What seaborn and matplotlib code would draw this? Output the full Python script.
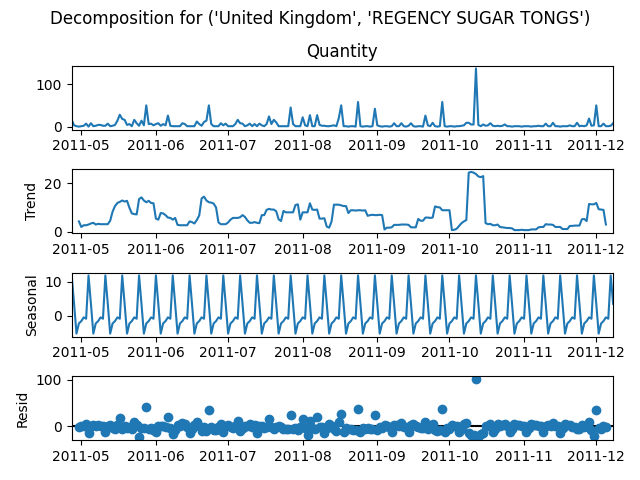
import numpy as np
import pandas as pd
import matplotlib
matplotlib.use("Agg")
import matplotlib.pyplot as plt
import seaborn as sns

# ---------------- data ----------------
suptitle_text = "Decomposition for ('United Kingdom', 'REGENCY SUGAR TONGS')"
series_name = "Quantity"
start_date = "2011-04-27"
period = 7

# daily observed quantity, 2011-04-27 .. 2011-12-08
quantity = [
    16, 3, 1, 0, 1, 2, 7, 0, 8, 1, 2, 4, 4, 2,
    2, 7, 1, 2, 4, 14, 28, 18, 16, 4, 6, 1, 16, 8,
    2, 14, 3, 50, 6, 7, 3, 6, 8, 2, 6, 3, 26, 2,
    1, 1, 1, 1, 8, 6, 1, 1, 1, 1, 12, 6, 2, 11,
    14, 50, 6, 1, 1, 1, 8, 3, 7, 1, 1, 1, 6, 16,
    8, 7, 1, 3, 7, 1, 6, 1, 7, 3, 1, 6, 24, 6,
    16, 10, 1, 1, 1, 1, 1, 45, 6, 1, 1, 1, 22, 3,
    1, 27, 1, 1, 27, 4, 2, 2, 1, 1, 2, 3, 1, 20,
    50, 1, 1, 0, 1, 1, 0, 58, 1, 0, 1, 1, 0, 1,
    42, 3, 1, 0, 1, 1, 0, 1, 8, 1, 1, 8, 1, 0,
    2, 8, 1, 0, 1, 1, 0, 26, 3, 1, 9, 1, 0, 1,
    58, 1, 0, 1, 1, 0, 1, 1, 2, 3, 9, 9, 5, 5,
    137, 4, 1, 5, 2, 3, 8, 2, 1, 2, 1, 2, 5, 1,
    1, 0, 1, 1, 1, 0, 1, 1, 1, 0, 1, 1, 2, 1,
    1, 7, 1, 1, 9, 1, 1, 0, 1, 1, 1, 3, 1, 1,
    9, 1, 2, 1, 3, 19, 2, 3, 50, 1, 1, 7, 1, 1,
    2, 8,
]

# weekly seasonal component (one period)
seasonal_pattern = [11.9, 3.5, -5.3, -2.3, -1.6, -0.5, -0.9]

# ---------------- decomposition pieces ----------------
dates = pd.date_range(start_date, periods=len(quantity), freq="D")
observed = pd.Series(quantity, index=dates, dtype=float)
trend = observed.rolling(period, center=True).mean()
seasonal = pd.Series(np.resize(np.array(seasonal_pattern, dtype=float), len(observed)), index=dates)
resid = observed - trend - seasonal

# ---------------- plot ----------------
fig, axs = plt.subplots(4, 1, figsize=(6.4, 4.8), dpi=100)

sns.lineplot(x=dates, y=observed.values, ax=axs[0], color="C0")
axs[0].set_title(series_name)

sns.lineplot(x=dates, y=trend.values, ax=axs[1], color="C0")
axs[1].set_ylabel("Trend")

sns.lineplot(x=dates, y=seasonal.values, ax=axs[2], color="C0")
axs[2].set_ylabel("Seasonal")

sns.scatterplot(x=dates, y=resid.values, ax=axs[3], color="C0",
                s=36, edgecolor="C0", linewidth=1)
axs[3].axhline(0, color="#000000", zorder=-3, linewidth=1.5)
axs[3].set_ylabel("Resid")

for ax in axs:
    ax.set_xlim(dates[0], dates[-1])
    ax.set_xlabel("")
axs[0].set_ylabel("")

fig.suptitle(suptitle_text)
fig.subplots_adjust(left=0.112, right=0.958, top=0.8635, bottom=0.0833, hspace=0.617)
fig.savefig("out.png", dpi=100)
